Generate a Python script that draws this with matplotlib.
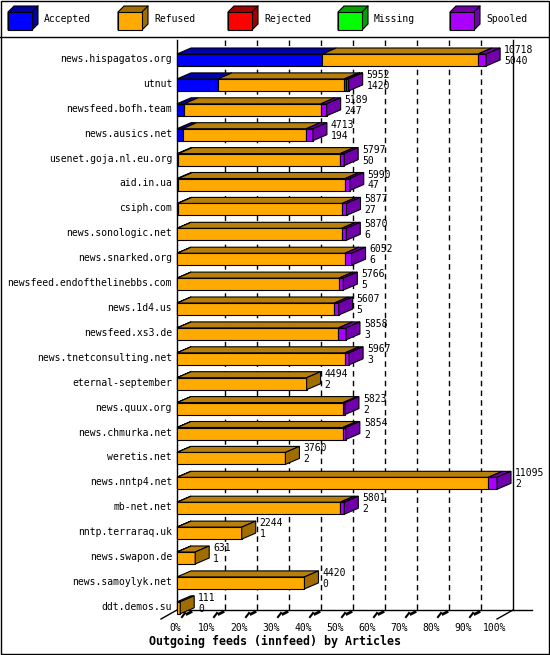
import matplotlib
matplotlib.use("Agg")
import matplotlib.pyplot as plt
from matplotlib.patches import Polygon, Rectangle

hosts = ["news.hispagatos.org","utnut","newsfeed.bofh.team","news.ausics.net","usenet.goja.nl.eu.org",
 "aid.in.ua","csiph.com","news.sonologic.net","news.snarked.org","newsfeed.endofthelinebbs.com",
 "news.1d4.us","newsfeed.xs3.de","news.tnetconsulting.net","eternal-september","news.quux.org",
 "news.chmurka.net","weretis.net","news.nntp4.net","mb-net.net","nntp.terraraq.uk","news.swapon.de",
 "news.samoylyk.net","ddt.demos.su"]
totals = [10718,5952,5189,4713,5797,5990,5877,5870,6052,5766,5607,5858,5967,4494,5823,5854,3760,11095,5801,2244,631,4420,111]
accepted = [5040,1420,247,194,50,47,27,6,6,5,5,3,3,2,2,2,2,2,2,1,1,0,0]
rejected = [0,60,0,0,0,0,0,0,0,0,0,0,0,0,0,0,0,0,0,0,0,0,0]
spooled = [280,90,200,230,140,160,150,160,230,150,150,260,140,0,70,110,0,300,140,0,0,0,0]
legend_names = ["Accepted","Refused","Rejected","Missing","Spooled"]
front = ["#0000ff","#ffaa00","#ff0000","#00ff00","#aa00ff"]
topc = ["#0000b0","#b8800a","#b00000","#00b000","#7000b0"]
sidec = ["#0000a0","#a06e00","#a00000","#00a000","#7000aa"]
ticks = [0,10,20,30,40,50,60,70,80,90,100]

W,H = 550,655
fig = plt.figure(figsize=(5.5,6.55),dpi=100)
ov = fig.add_axes([0,0,1,1]); ov.set_xlim(0,W); ov.set_ylim(H,0); ov.axis("off")
mx = max(totals); s = mx/320.0
X0 = 177; Y0 = 60; DY = 24.9
DXp, DYp = 14, 6
def px(v): return X0 + v/s
def py(i): return Y0 + DY*i
mono = "DejaVu Sans Mono"
fs = 7.0
bh = 12

for t in ticks[1:-1]:
    x = X0 + t*3.2 + 16
    ov.plot([x,x],[40,610],color="black",lw=1,ls=(0,(4,3)))
ov.plot([X0,X0],[40,610],color="black",lw=1)
ov.plot([513,513],[40,610],color="black",lw=1)
ov.plot([X0,532],[610,610],color="black",lw=1)
ov.plot([161,X0],[619,610],color="black",lw=1)
ov.plot([497,513],[619,610],color="black",lw=1)
for t in ticks[:-1]:
    x = X0 + t*3.2
    ov.plot([x+5,x+8],[617,613],color="black",lw=1.5)
    ov.plot([x+10,x+14],[614,612],color="black",lw=2)
for t in ticks:
    ov.text(X0+t*3.2-2,628,f"{t}%",ha="center",va="center",family=mono,fontsize=fs)
ov.text(275,641,"Outgoing feeds (innfeed) by Articles",ha="center",va="center",family=mono,fontsize=8.4,fontweight="bold")

for i,h in enumerate(hosts):
    yc = py(i)
    ref = totals[i]-accepted[i]-rejected[i]-spooled[i]
    vals = [accepted[i],ref,rejected[i],0,spooled[i]]
    x = X0; last = None
    top = yc-bh/2
    for k,v in enumerate(vals):
        if v <= 0: continue
        w = v/s
        ov.add_patch(Rectangle((x,top),w,bh,fc=front[k],ec="black",lw=0.8,zorder=3))
        ov.add_patch(Polygon([(x,top),(x+w,top),(x+w+DXp,top-DYp),(x+DXp,top-DYp)],closed=True,fc=topc[k],ec="black",lw=0.8,zorder=3))
        x += w; last = k
    ov.add_patch(Polygon([(x,top),(x+DXp,top-DYp),(x+DXp,top+bh-DYp),(x,top+bh)],closed=True,fc=sidec[last],ec="black",lw=0.8,zorder=3))
    ov.text(X0-5,yc-1,h,ha="right",va="center",family=mono,fontsize=fs)
    ov.text(x+DXp+4,yc-10,str(totals[i]),ha="left",va="center",family=mono,fontsize=fs)
    ov.text(x+DXp+4,yc+1,str(accepted[i]),ha="left",va="center",family=mono,fontsize=fs)

lx = [8,118,228,338,450]
for k,n in enumerate(legend_names):
    x = lx[k]
    ov.add_patch(Polygon([(x,12),(x+6,6),(x+30,6),(x+30,24),(x+24,30),(x,30)],closed=True,fc=sidec[k],ec="black",lw=0.8))
    ov.add_patch(Rectangle((x,12),24,18,fc=front[k],ec="black",lw=0.8))
    ov.plot([x+24,x+30],[12,6],color="black",lw=0.8)
    ov.text(x+36,19,n,ha="left",va="center",family=mono,fontsize=fs)
ov.plot([0,W],[37,37],color="black",lw=1)
ov.add_patch(Rectangle((0.5,0.5),W-1.5,H-1.5,fill=False,ec="black",lw=1))
fig.savefig("out.png",dpi=100)
